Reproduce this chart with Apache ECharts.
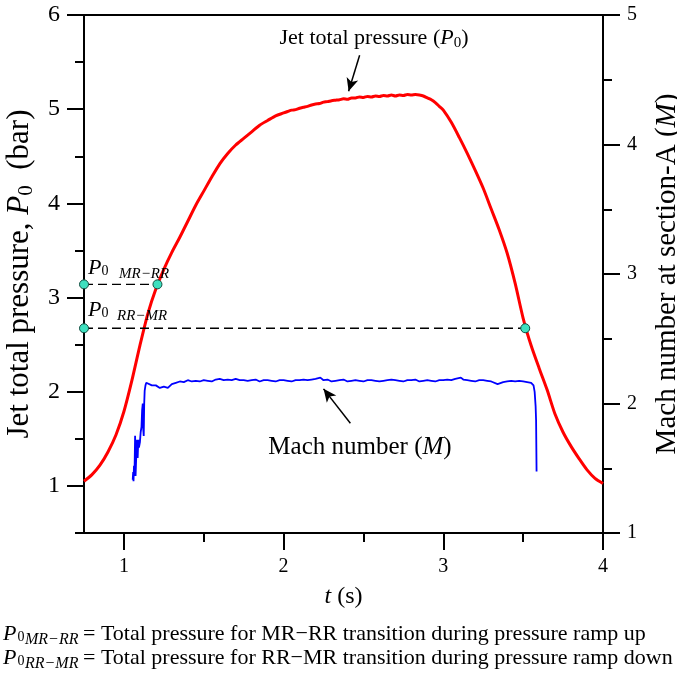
<!DOCTYPE html>
<html><head><meta charset="utf-8">
<script src="https://cdn.jsdelivr.net/npm/echarts@6/dist/echarts.min.js"></script>
<style>html,body{margin:0;padding:0;background:#fff}#c{width:677px;height:674px}</style>
</head><body><div id="c"></div>
<script>
// ---- data ----
const redT = [0.75,0.80,0.85,0.90,0.95,1.00,1.05,1.10,1.15,1.20,1.25,1.30,1.35,1.40,1.45,1.50,1.55,1.60,1.65,1.70,1.75,1.80,1.85,1.90,1.95,
  2.000,2.025,2.050,2.075,2.100,2.125,2.150,2.175,2.200,2.225,2.250,2.275,2.300,2.325,2.350,2.375,2.400,2.425,2.450,2.475,2.500,2.525,2.550,2.575,2.600,2.625,2.650,2.675,2.700,2.725,2.750,2.775,2.800,2.825,2.850,2.875,2.900,2.925,2.950,2.975,
  3.000,3.050,3.100,3.150,3.200,3.250,3.300,3.350,3.400,3.450,3.500,3.550,3.600,3.650,3.700,3.750,3.800,3.850,3.900,3.950,4.000];
const redP = [1.05,1.12,1.22,1.36,1.54,1.79,2.12,2.49,2.83,3.09,3.30,3.48,3.64,3.81,3.98,4.13,4.28,4.42,4.53,4.62,4.69,4.76,4.83,4.88,4.93,
  4.96,4.975,4.99,4.995,5.01,5.02,5.03,5.045,5.055,5.06,5.075,5.08,5.09,5.095,5.10,5.11,5.105,5.12,5.12,5.13,5.125,5.135,5.13,5.14,5.135,5.145,5.14,5.15,5.14,5.15,5.145,5.155,5.15,5.155,5.15,5.14,5.12,5.10,5.07,5.03,
  4.99,4.86,4.70,4.53,4.35,4.16,3.94,3.72,3.47,3.15,2.78,2.49,2.25,2.02,1.76,1.57,1.42,1.29,1.17,1.08,1.025];

const machT = [1.055,1.058,1.060,1.063,1.066,1.070,1.073,1.078,1.082,1.086,1.090,1.094,1.100,1.105,1.110,1.114,1.118,1.121,1.124,1.127,1.130,1.135,1.140,
  1.15,1.175,1.20,1.225,1.25,1.275,1.30,1.325,1.35,1.375,1.40,1.425,1.45,1.475,1.50,1.525,1.55,1.575,1.60,1.625,1.65,1.675,1.70,1.725,1.75,1.775,1.80,1.825,1.85,1.875,1.90,1.925,1.95,1.975,
  2.00,2.025,2.05,2.075,2.10,2.125,2.15,2.175,2.20,2.23,2.25,2.275,2.30,2.325,2.35,2.375,2.40,2.425,2.45,2.475,2.50,2.525,2.55,2.575,2.60,2.625,2.65,2.675,2.70,2.725,2.75,2.775,2.80,2.825,2.85,2.875,2.90,2.925,2.95,2.975,
  3.00,3.025,3.05,3.075,3.11,3.125,3.15,3.175,3.20,3.225,3.25,3.275,3.30,3.34,3.375,3.40,3.425,3.45,3.475,3.50,3.525,3.55,3.565,3.572,3.578,3.581,3.584];
const machM = [1.41,1.47,1.40,1.52,1.44,1.75,1.44,1.62,1.72,1.58,1.72,1.66,1.70,1.78,1.82,1.95,2.00,1.80,1.75,2.00,2.10,2.14,2.16,
  2.15,2.14,2.14,2.12,2.13,2.12,2.15,2.16,2.17,2.165,2.18,2.17,2.175,2.17,2.18,2.175,2.17,2.185,2.19,2.18,2.185,2.18,2.19,2.18,2.18,2.175,2.18,2.185,2.17,2.18,2.18,2.175,2.17,2.18,
  2.18,2.175,2.17,2.18,2.18,2.185,2.18,2.185,2.19,2.20,2.18,2.185,2.17,2.175,2.18,2.185,2.17,2.175,2.18,2.175,2.17,2.18,2.18,2.175,2.17,2.175,2.18,2.185,2.18,2.175,2.17,2.18,2.18,2.185,2.17,2.175,2.18,2.175,2.17,2.18,
  2.18,2.185,2.18,2.19,2.20,2.185,2.18,2.175,2.17,2.18,2.18,2.175,2.17,2.15,2.165,2.17,2.175,2.17,2.175,2.17,2.165,2.16,2.14,2.09,1.98,1.87,1.475];

const rampUpT = [0.75, 1.21];
const rampUpP = [3.14, 3.14];
const rampDownT = [0.75, 3.513];
const rampDownP = [2.674, 2.674];

const xMajor = [1, 2, 3, 4];
const xMinor = [1.5, 2.5, 3.5];
const pMajor = [1, 2, 3, 4, 5, 6];
const pMinor = [0.5, 1.5, 2.5, 3.5, 4.5, 5.5];

// ---- chart ----
const F = 'Liberation Serif, Times New Roman, serif';
const zip = (a, b) => a.map((v, i) => [v, b[i]]);
const chart = echarts.init(document.getElementById('c'), null, {renderer: 'canvas'});
const blk = {color: '#000', width: 2};

const option = {
  animation: false,
  backgroundColor: '#fff',
  grid: {left: 84, top: 15, width: 519, height: 518, show: true, borderColor: '#000', borderWidth: 2, backgroundColor: 'transparent', containLabel: false, outerBoundsMode: 'none'},
  xAxis: [
    {type: 'value', min: 0.75, max: 4, position: 'bottom',
     axisLine: {show: true, lineStyle: blk},
     axisTick: {show: true, customValues: xMajor, length: 17, lineStyle: blk},
     axisLabel: {customValues: xMajor, fontSize: 20, fontFamily: F, color: '#000', margin: 24},
     splitLine: {show: false},
     name: '{i|t}{n| (s)}', nameLocation: 'middle', nameGap: 50,
     nameTextStyle: {rich: {i: {fontSize: 24, fontStyle: 'italic', fontFamily: F, color: '#000', lineHeight: 28}, n: {fontSize: 24, fontFamily: F, color: '#000', lineHeight: 28}}}},
    {type: 'value', min: 0.75, max: 4, position: 'bottom', offset: 0,
     axisLine: {show: false}, axisTick: {show: true, customValues: xMinor, length: 9, lineStyle: blk},
     axisLabel: {show: false}, splitLine: {show: false}}
  ],
  yAxis: [
    {type: 'value', min: 0.5, max: 6, position: 'left',
     axisLine: {show: true, lineStyle: blk},
     axisTick: {show: true, customValues: pMajor, length: 17, lineStyle: blk},
     axisLabel: {customValues: pMajor, fontSize: 24, fontFamily: F, color: '#000', margin: 24},
     splitLine: {show: false},
     name: '{n|Jet total pressure, }{i|P}{s|0}{n|  (bar)}', nameLocation: 'middle', nameGap: 46, nameRotate: 90,
     nameTextStyle: {rich: {
       n: {fontSize: 31, fontFamily: F, color: '#000', lineHeight: 34},
       i: {fontSize: 31, fontStyle: 'italic', fontFamily: F, color: '#000', lineHeight: 34},
       s: {fontSize: 21, fontFamily: F, color: '#000', lineHeight: 21, verticalAlign: 'bottom'}}}},
    {type: 'value', min: 0.5, max: 6, position: 'left', offset: 0,
     axisLine: {show: false}, axisTick: {show: true, customValues: pMinor, length: 9, lineStyle: blk},
     axisLabel: {show: false}, splitLine: {show: false}},
    {type: 'value', min: 1, max: 5, interval: 1, position: 'right', offset: 0,
     axisLine: {show: true, lineStyle: blk},
     axisTick: {show: true, length: 17, lineStyle: blk},
     minorTick: {show: true, splitNumber: 2, length: 9, lineStyle: blk},
     axisLabel: {fontSize: 20, fontFamily: F, color: '#000', margin: 24},
     splitLine: {show: false}, minorSplitLine: {show: false},
     name: '{n|Mach number at section-A (}{i|M}{n|)}', nameLocation: 'middle', nameGap: 47, nameRotate: 90,
     nameTextStyle: {rich: {
       n: {fontSize: 29, fontFamily: F, color: '#000', lineHeight: 34},
       i: {fontSize: 29, fontStyle: 'italic', fontFamily: F, color: '#000', lineHeight: 34}}}}
  ],
  series: [
    {type: 'line', name: 'P0', xAxisIndex: 0, yAxisIndex: 0, data: zip(redT, redP),
     showSymbol: false, smooth: 0.25, lineStyle: {color: '#ff0000', width: 3}, z: 3,
     markLine: {silent: true, symbol: ['none', 'arrow'], symbolSize: [9, 13], label: {show: false},
       lineStyle: {color: '#000', width: 1.5, type: 'solid'},
       data: [[{coord: [2.476, 5.573]}, {coord: [2.407, 5.19]}]]}},
    {type: 'line', name: 'M', xAxisIndex: 0, yAxisIndex: 2, data: zip(machT, machM),
     showSymbol: false, lineStyle: {color: '#0000ff', width: 1.8}, z: 3,
     markLine: {silent: true, symbol: ['none', 'arrow'], symbolSize: [9, 13], label: {show: false},
       lineStyle: {color: '#000', width: 1.5, type: 'solid'},
       data: [[{coord: [2.418, 1.848]}, {coord: [2.25, 2.113]}]]}},
    {type: 'line', xAxisIndex: 0, yAxisIndex: 0, data: zip(rampUpT, rampUpP),
     symbol: 'circle', symbolSize: 9, showSymbol: true,
     lineStyle: {color: '#000', width: 1.3, type: [9, 5]},
     itemStyle: {color: '#3ee0bf', borderColor: '#124d40', borderWidth: 1}, z: 5},
    {type: 'line', xAxisIndex: 0, yAxisIndex: 0, data: zip(rampDownT, rampDownP),
     symbol: 'circle', symbolSize: 9, showSymbol: true,
     lineStyle: {color: '#000', width: 1.3, type: [9, 5]},
     itemStyle: {color: '#3ee0bf', borderColor: '#124d40', borderWidth: 1}, z: 5}
  ]
};
chart.setOption(option);

// ---- text annotations ----
function txt(x, baseline, s, size, italic, align) {
  return {type: 'text', x: x, y: baseline - 0.34 * size, z: 100,
    style: {text: s, fontSize: size, fontFamily: F, fontStyle: italic ? 'italic' : 'normal', fill: '#000',
      align: align || 'left', verticalAlign: 'middle'}};
}
function richTxt(x, y, s, rich, align) {
  return {type: 'text', x: x, y: y, z: 100,
    style: {text: s, rich: rich, fill: '#000', align: align || 'left', verticalAlign: 'middle', fontFamily: F}};
}
const annRich = (sz) => ({
  n: {fontSize: sz, fontFamily: F, lineHeight: sz + 4},
  i: {fontSize: sz, fontFamily: F, fontStyle: 'italic', lineHeight: sz + 4},
  s: {fontSize: Math.round(sz * 0.68), fontFamily: F, lineHeight: Math.round(sz * 0.68), verticalAlign: 'bottom'}
});
const graphics = [
  richTxt(374, 38, '{n|Jet total pressure (}{i|P}{s|0}{n|)}', annRich(22), 'center'),
  richTxt(360, 447, '{n|Mach number (}{i|M}{n|)}', annRich(25), 'center'),
  // transition labels
  txt(88, 276, 'P', 22, true), txt(101.5, 276, '0', 14, false), txt(119, 279, 'MR\u2212RR', 15, true),
  txt(88, 318, 'P', 22, true), txt(101.5, 318, '0', 14, false), txt(117, 321, 'RR\u2212MR', 15, true),
  // footnotes
  txt(3, 642, 'P', 22, true), txt(17.5, 642, '0', 14, false), txt(25, 645, 'MR\u2212RR', 16, true),
  txt(83, 642, '= Total pressure for MR\u2212RR transition during pressure ramp up', 22, false),
  txt(3, 666, 'P', 22, true), txt(17.5, 666, '0', 14, false), txt(25, 669, 'RR\u2212MR', 16, true),
  txt(83, 666, '= Total pressure for RR\u2212MR transition during pressure ramp down', 22, false)
];
chart.setOption({graphic: graphics});
</script></body></html>
